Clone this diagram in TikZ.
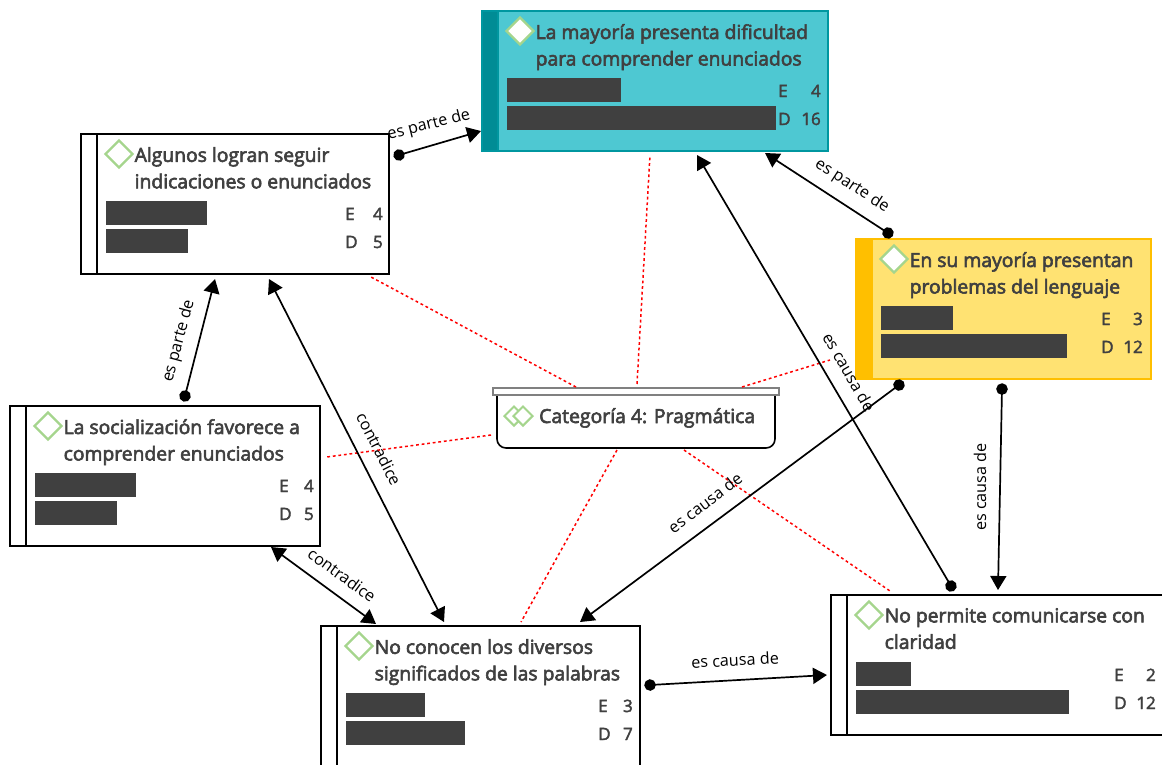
\documentclass[tikz,border=0pt]{standalone}
\usepackage{fontspec}
\setmainfont{Open Sans}
\usetikzlibrary{arrows.meta,shapes.geometric}
\definecolor{ink}{HTML}{404040}
\definecolor{dia}{HTML}{A5D58D}
\definecolor{tealedge}{HTML}{0097A0}
\definecolor{tealfill}{HTML}{4EC8D2}
\definecolor{tealstripe}{HTML}{008C95}
\definecolor{yellowfill}{HTML}{FFE272}
\definecolor{yellowstripe}{HTML}{FFBF00}
\colorlet{aedge}{black}
\colorlet{bedge}{tealedge}
\colorlet{cedge}{yellowstripe}
\colorlet{dedge}{black}
\colorlet{eedge}{black}
\colorlet{fedge}{black}
\newcommand\heavy[2]{\special{pdf:code q 2 Tr #1 w}#2\special{pdf:code Q}}
\tikzset{
  x=1pt,y=-1pt,
  titletext/.style={anchor=north west,inner sep=0pt,align=left,text=ink,font=\fontsize{19.3}{26.5}\selectfont},
  valtext/.style={inner sep=0pt,text=ink,font=\fontsize{17}{18}\selectfont},
  linklabel/.style={inner sep=0pt,text=black,font=\fontsize{16.2}{18}\selectfont},
  bar/.style={fill=ink,draw=none},
  icon/.style={shape=diamond,draw=dia,line width=2.4pt,minimum width=28pt,minimum height=28pt,inner sep=0pt,aspect=1},
  rel/.style={draw=red,line width=1.5pt,dash pattern=on 2.8pt off 2.8pt},
  link/.style={draw=black,line width=1.7pt},
  dotlink/.style={link,{Circle[length=11.5pt]}-{Triangle[length=14pt,width=16pt]},shorten <=-5.7pt},
  twolink/.style={link,{Triangle[length=14pt,width=16pt]}-{Triangle[length=14pt,width=16pt]}},
}
% name, x, y, w, fill, stripe fill, title
\newcommand\cardbox[7]{%
  \node[anchor=north west,inner sep=0pt,outer sep=0pt,minimum width=#4pt,minimum height=140pt,fill=#5] (#1) at (#2,#3) {};
  \fill[#6] (#1.north west) rectangle ([shift={(16,140)}]#1.north west);
  \draw[line width=1.6pt,draw=#1edge] (#1.north west) rectangle (#1.south east);
  \draw[line width=1.6pt,draw=#1edge] ([shift={(16,0)}]#1.north west) -- ([shift={(16,140)}]#1.north west);
  \node[icon,fill=white] (#1i) at ([shift={(38,20)}]#1.north west) {};
  \node[titletext] (#1t) at ([shift={(53.5,13)}]#1.north west) {\heavy{0.6}{#7}};
}
% name, E width, D width, letter x, number right x, E, D
\newcommand\cardbars[7]{%
  \fill[bar] ([shift={(24.5,67)}]#1.north west) rectangle ([shift={(24.5+#2,91)}]#1.north west);
  \fill[bar] ([shift={(24.5,95)}]#1.north west) rectangle ([shift={(24.5+#3,118.5)}]#1.north west);
  \node[valtext,anchor=base west] (#1e) at ([shift={(#4,86)}]#1.north west) {\heavy{0.4}{E}};
  \node[valtext,anchor=base west] (#1d) at ([shift={(#4,114)}]#1.north west) {\heavy{0.4}{D}};
  \node[valtext,anchor=base east] (#1ev) at ([shift={(#5,86)}]#1.north west) {\heavy{0.4}{#6}};
  \node[valtext,anchor=base east] (#1dv) at ([shift={(#5,114)}]#1.north west) {\heavy{0.4}{#7}};
}
\begin{document}
\begin{tikzpicture}
\useasboundingbox (0,0) rectangle (1162,764);
\clip (0,0) rectangle (1162,764);
\fill[white] (0,0) rectangle (1162,764);

% cards
\cardbox{a}{81}{134}{308}{white}{white}{Algunos logran seguir\\indicaciones o enunciados}
\cardbars{a}{101}{82}{264}{302}{4}{5}
\cardbox{b}{482}{11}{346}{tealfill}{tealstripe}{La mayoría presenta dificultad\\para comprender enunciados}
\cardbars{b}{114}{269}{296}{339}{4}{16}
\cardbox{c}{856}{239}{295}{yellowfill}{yellowstripe}{En su mayoría presentan\\problemas del lenguaje}
\cardbars{c}{72}{186}{245}{287}{3}{12}
\cardbox{d}{10}{406}{310}{white}{white}{La socialización favorece a\\comprender enunciados}
\cardbars{d}{101}{82}{269}{304}{4}{5}
\cardbox{e}{321}{626}{319}{white}{white}{No conocen los diversos\\significados de las palabras}
\cardbars{e}{79}{119}{277}{312}{3}{7}
\cardbox{f}{831}{595}{340}{white}{white}{No permite comunicarse con\\claridad}
\cardbars{f}{55}{213}{283}{325}{2}{12}

% category
\node[anchor=north west,minimum width=278pt,minimum height=60pt,inner sep=0pt,outer sep=0pt] (cat) at (497,388) {};
\draw[line width=1.6pt,rounded corners=9pt,fill=white] (cat.north west) -- (cat.south west) -- (cat.south east) -- (cat.north east);
\draw[draw=gray,line width=1.6pt,fill=white] ([shift={(-4,0)}]cat.north west) rectangle ([shift={(4,7)}]cat.north east);
\node[icon,minimum width=20pt,minimum height=20pt,line width=2pt] (cati1) at ([shift={(17,28)}]cat.north west) {};
\node[icon,minimum width=20pt,minimum height=20pt,line width=2pt,fill=white] (cati2) at ([shift={(26,28)}]cat.north west) {};
\node[anchor=base west,inner sep=0pt,text=ink,font=\fontsize{19.4}{20}\selectfont] (catt) at ([shift={(42,35)}]cat.north west) {\heavy{0.6}{Categoría 4: Pragmática}};

% red relations
\draw[rel] ([shift={(79,-1)}]cat.north west) -- ([shift={(290,143)}]a.north west);
\draw[rel] ([shift={(140,-4)}]cat.north west) -- ([shift={(168,144)}]b.north west);
\draw[rel] ([shift={(245,-1)}]cat.north west) -- ([shift={(-26,121)}]c.north west);
\draw[rel] ([shift={(-6,47)}]cat.north west) -- ([shift={(317,51)}]d.north west);
\draw[rel] ([shift={(120,62)}]cat.north west) -- ([shift={(200,-4)}]e.north west);
\draw[rel] ([shift={(187,62)}]cat.north west) -- ([shift={(59,-4)}]f.north west);

% links
\draw[dotlink] ([shift={(318,21)}]a.north west) -- ([shift={(-1,120)}]b.north west);
\node[linklabel,rotate=14] (l1) at (429,125) {es parte de};
\draw[dotlink] ([shift={(32,-6)}]c.north west) -- ([shift={(283,142)}]b.north west);
\node[linklabel,rotate=-33] (l2) at (852,186) {es parte de};
\draw[dotlink] ([shift={(175,-10)}]d.north west) -- ([shift={(134,145)}]a.north west);
\node[linklabel,rotate=75] (l3) at (179,341) {es parte de};
\draw[twolink] ([shift={(188,145)}]a.north west) -- ([shift={(123,-4)}]e.north west);
\node[linklabel,rotate=-63] (l4) at (379,449) {contradice};
\draw[twolink] ([shift={(261,141)}]d.north west) -- ([shift={(55,-2)}]e.north west);
\node[linklabel,rotate=-36] (l5) at (342,575) {contradice};
\draw[dotlink] ([shift={(43,146)}]c.north west) -- ([shift={(259,-4)}]e.north west);
\node[linklabel,rotate=37] (l6) at (705,503) {es causa de};
\draw[dotlink] ([shift={(146,150)}]c.north west) -- ([shift={(167,-5)}]f.north west);
\node[linklabel,rotate=90] (l7) at (980,487) {es causa de};
\draw[dotlink] ([shift={(120,-9)}]f.north west) -- ([shift={(215,144)}]b.north west);
\node[linklabel,rotate=-60] (l8) at (849,372) {es causa de};
\draw[dotlink] ([shift={(329,59)}]e.north west) -- ([shift={(-4,80)}]f.north west);
\node[linklabel,rotate=3] (l9) at (735,660) {es causa de};
\end{tikzpicture}
\end{document}
